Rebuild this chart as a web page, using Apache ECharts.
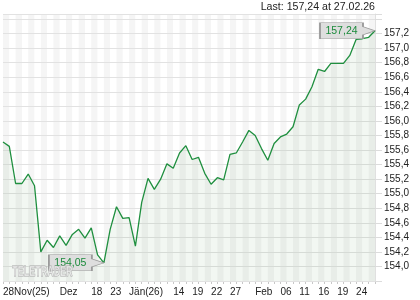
<!DOCTYPE html>
<html>
<head>
<meta charset="utf-8">
<script src="https://cdn.jsdelivr.net/npm/echarts@6/dist/echarts.min.js"></script>
<style>
html,body{margin:0;padding:0;background:#fff;}
#chart{width:420px;height:300px;}
</style>
</head>
<body>
<div id="chart"></div>
<script>
// Trading days, 28 Nov 2025 .. 27 Feb 2026
var dates = [
  '28.11.25','01.12.25','02.12.25','03.12.25','04.12.25','05.12.25','08.12.25','09.12.25','10.12.25','11.12.25',
  '12.12.25','15.12.25','16.12.25','17.12.25','18.12.25','19.12.25','22.12.25','23.12.25','29.12.25','30.12.25',
  '02.01.26','05.01.26','07.01.26','08.01.26','09.01.26','12.01.26','13.01.26','14.01.26','15.01.26','16.01.26',
  '19.01.26','20.01.26','21.01.26','22.01.26','23.01.26','26.01.26','27.01.26','28.01.26','29.01.26','30.01.26',
  '02.02.26','03.02.26','04.02.26','05.02.26','06.02.26','09.02.26','10.02.26','11.02.26','12.02.26','13.02.26',
  '16.02.26','17.02.26','18.02.26','19.02.26','20.02.26','23.02.26','24.02.26','25.02.26','26.02.26','27.02.26'
];
var prices = [
  155.71,155.65,155.14,155.14,155.27,155.11,154.20,154.36,154.26,154.42,
  154.29,154.44,154.51,154.39,154.53,154.16,154.05,154.51,154.82,154.66,
  154.67,154.28,154.88,155.21,155.06,155.20,155.41,155.35,155.56,155.66,
  155.47,155.50,155.28,155.13,155.22,155.19,155.54,155.56,155.71,155.87,
  155.80,155.62,155.46,155.69,155.78,155.82,155.92,156.22,156.30,156.47,
  156.71,156.68,156.79,156.79,156.79,156.90,157.12,157.13,157.15,157.24
];
var xTickIndex = [0, 9, 14, 17, 20, 27, 30, 33, 36, 40, 44, 47, 50, 53, 56];
var xTickText  = ['28Nov(25)','Dez','18','23','Jän(26)','14','19','22','27','Feb','06','11','16','19','24'];
var yTickMin = 154.0, yTickMax = 157.2, yTickStep = 0.2;
var lastText = 'Last: 157,24 at 27.02.26';

function fmt(v, d){ return v.toFixed(d).replace('.', ','); }

var chart = echarts.init(document.getElementById('chart'), null, {renderer:'canvas'});
var font = '"Liberation Sans", Arial, sans-serif';
chart.setOption({
  animation: false,
  backgroundColor: '#ffffff',
  title: {
    text: lastText, right: 45, top: 2, padding: 0,
    textStyle: {fontSize: 10.6, fontWeight: 'normal', color: '#222', fontFamily: font}
  },
  grid: {left: 3, right: 45, top: 14, bottom: 19},
  graphic: [{
    type: 'text', left: 12, top: 265, z: 10, scaleX: 0.64,
    style: {text: 'TELETRADER', fontSize: 14, fontWeight: 'bold', fontFamily: font,
      fill: 'rgba(247,247,247,0.6)', stroke: '#a8a8a8', lineWidth: 1}
  }],
  xAxis: {
    type: 'category', data: dates, boundaryGap: false, z: 0,
    axisLine: {show: false},
    axisTick: {show: true, interval: 0, length: 3, lineStyle: {color: '#c8c8c8'}},
    axisLabel: {
      interval: function(i){ return xTickIndex.indexOf(i) >= 0; },
      formatter: function(v, i){ var k = xTickIndex.indexOf(i); return k >= 0 ? xTickText[k] : ''; },
      align: 'left', margin: 6, fontSize: 10, color: '#222', fontFamily: font
    },
    splitLine: {show: false},
    splitArea: {show: true, interval: 0, areaStyle: {color: ['#f5f5f5', '#ffffff']}}
  },
  yAxis: {
    type: 'value', position: 'right', min: 153.8, max: 157.47, interval: yTickStep, z: 1,
    axisLine: {show: true, lineStyle: {color: '#e0e0e0'}},
    axisTick: {show: true, length: 7, lineStyle: {color: '#dcdcdc'}},
    axisLabel: {
      margin: 9, fontSize: 10, color: '#222', fontFamily: font,
      formatter: function(v){
        var k = Math.round((v - yTickMin) / yTickStep);
        if (Math.abs(v - (yTickMin + k*yTickStep)) > 1e-6 || v < yTickMin - 1e-6 || v > yTickMax + 1e-6) return '';
        return fmt(v, 1);
      }
    },
    splitLine: {show: true, lineStyle: {color: '#e2e2e2'}}
  },
  series: [{
    type: 'line', data: prices, symbol: 'none', smooth: false, z: 3,
    lineStyle: {color: '#1f8f3f', width: 1.3},
    areaStyle: {color: 'rgba(40,130,50,0.09)'},
    markPoint: {
      symbol: 'path://M0,0L43,0L43,4L55,8L43,12L43,16L0,16Z',
      symbolSize: [55, 16], symbolOffset: [-27.5, 0],
      itemStyle: {color: '#dedede', borderColor: '#9a9a9a', borderWidth: 1},
      label: {show: true, position: 'inside', offset: [-6, 0], color: '#1a8a3a', fontSize: 10.5, fontFamily: font,
        formatter: function(p){ return fmt(p.value, 2); }},
      data: [{type: 'max'}, {type: 'min'}]
    }
  }]
});
</script>
</body>
</html>
